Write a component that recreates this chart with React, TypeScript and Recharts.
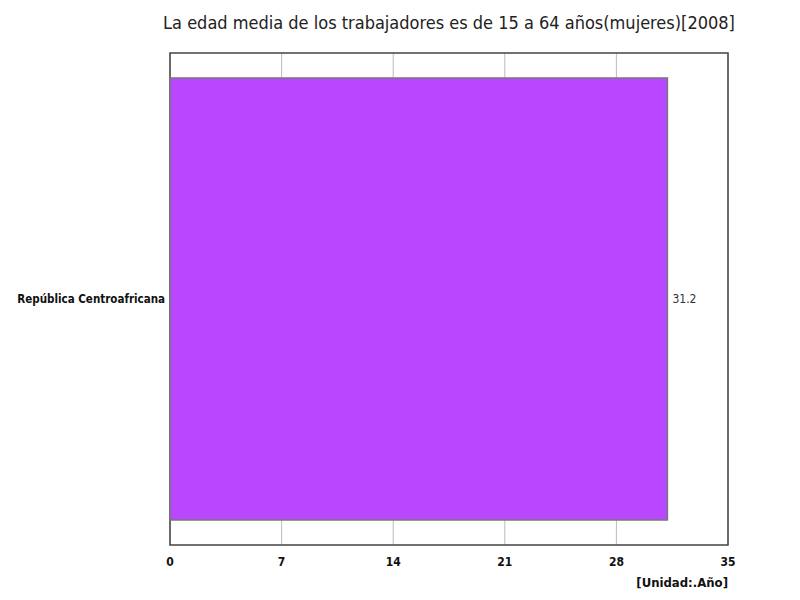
import React from 'react';
import { BarChart, Bar, XAxis, YAxis, CartesianGrid, ReferenceArea, LabelList } from 'recharts';

const countries = ['República Centroafricana'];
const ages = [31.2];
const xTicks = [0, 7, 14, 21, 28, 35];

const title = 'La edad media de los trabajadores es de 15 a 64 años(mujeres)[2008]';
const unit = '[Unidad:.Año]';

const data = countries.map((name, i) => ({ name, value: ages[i] }));

const FONT = "'Liberation Sans Narrow', 'DejaVu Sans Condensed', 'Noto Sans', sans-serif";

const App: React.FC = () => {
  return (
    <div style={{ position: 'absolute', left: 0, top: 0, width: 800, height: 600, background: '#fff', fontFamily: FONT }}>
      <div
        style={{
          position: 'absolute',
          left: 449,
          top: 12,
          transform: 'translateX(-50%)',
          fontSize: 18,
          color: '#222',
          whiteSpace: 'nowrap',
        }}
      >
        {title}
      </div>
      <BarChart
        width={800}
        height={600}
        data={data}
        layout="vertical"
        margin={{ top: 53, right: 72, left: 0, bottom: 0 }}
        barCategoryGap={25}
      >
        <CartesianGrid horizontal={false} stroke="#bbb" strokeDasharray="" />
        <XAxis
          type="number"
          domain={[0, 35]}
          ticks={xTicks}
          height={55}
          axisLine={false}
          tickLine={false}
          interval={0}
          tick={{ fontSize: 12, fontWeight: 'bold', fill: '#111', fontFamily: FONT }}
          tickMargin={6}
        />
        <YAxis
          type="category"
          dataKey="name"
          width={170}
          axisLine={false}
          tickLine={false}
          tick={{ fontSize: 11.5, fontWeight: 'bold', fill: '#111', fontFamily: FONT }}
          tickMargin={-1}
        />
        <Bar dataKey="value" fill="#B847FF" stroke="#777" strokeWidth={1.5} isAnimationActive={false}>
          <LabelList dataKey="value" position="right" offset={5} style={{ fontSize: 12, fill: '#333', fontFamily: FONT }} />
        </Bar>
        <ReferenceArea x1={0} x2={35} fill="none" stroke="#444" strokeWidth={1.5} ifOverflow="visible" />
      </BarChart>
      <div
        style={{
          position: 'absolute',
          right: 72,
          top: 575,
          fontSize: 13,
          fontWeight: 'bold',
          color: '#111',
        }}
      >
        {unit}
      </div>
    </div>
  );
};

export default App;
